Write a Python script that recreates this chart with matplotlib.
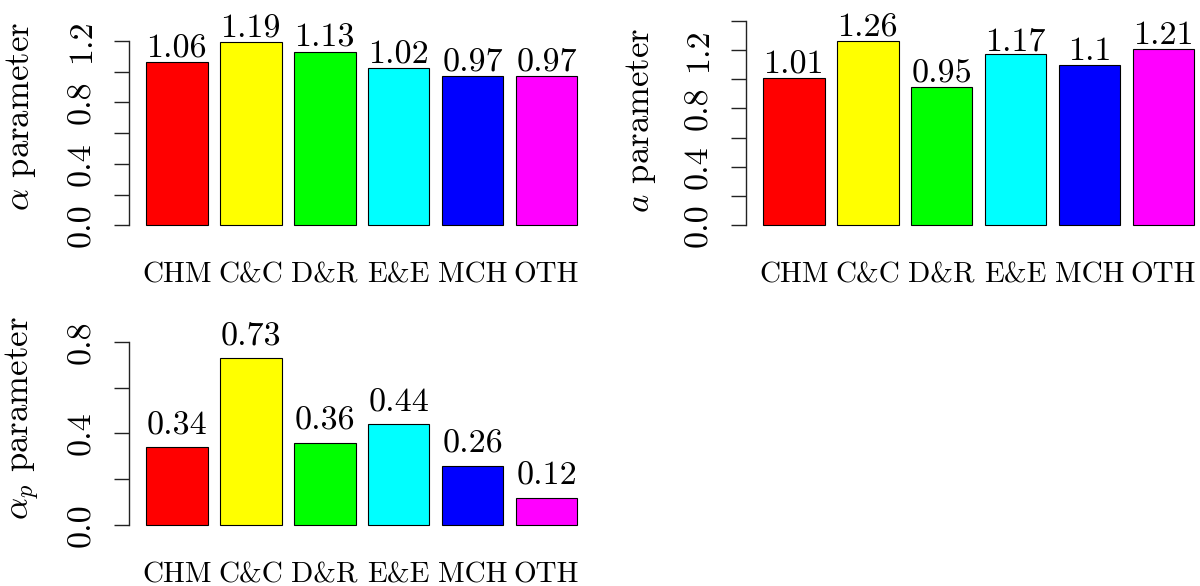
import matplotlib.pyplot as plt

plt.rcParams['font.family'] = 'cmr10'
plt.rcParams['mathtext.fontset'] = 'cm'
plt.rcParams['axes.formatter.use_mathtext'] = True

categories = ['CHM', 'C&C', 'D&R', 'E&E', 'MCH', 'OTH']
bar_colors = ['#FF0000', '#FFFF00', '#00FF00', '#00FFFF', '#0000FF', '#FF00FF']

alpha_values = [1.06, 1.19, 1.13, 1.02, 0.97, 0.97]
a_values = [1.01, 1.26, 0.95, 1.17, 1.1, 1.21]
alpha_p_values = [0.34, 0.73, 0.36, 0.44, 0.26, 0.12]

W, H = 1200, 586
fig = plt.figure(figsize=(W / 100, H / 100), dpi=100)

# bar centres as in R's barplot (width 1, space 0.2)
centers = [0.7 + 1.2 * i for i in range(len(categories))]


def panel(box, values, ylim, yticks, ylabel, label_xy):
    left, top, right, bottom = box
    ax = fig.add_axes([left / W, 1 - bottom / H, (right - left) / W, (bottom - top) / H])
    ax.bar(centers, values, width=1.0, color=bar_colors, edgecolor='black', linewidth=0.8)
    ax.set_xlim(-0.08, 7.48)
    ax.set_ylim(*ylim)

    for s in ['top', 'right', 'bottom']:
        ax.spines[s].set_visible(False)
    ax.spines['left'].set_bounds(yticks[0], yticks[-1])
    ax.spines['left'].set_linewidth(1.0)
    ax.spines['left'].set_color('#222222')

    ax.set_xticks([])
    ax.set_yticks(yticks)
    ax.set_yticklabels([f'{t:.1f}' if i % 2 == 0 else '' for i, t in enumerate(yticks)])
    ax.tick_params(axis='y', length=15 * 0.72, width=1.0, color='#222222', pad=24 * 0.72,
                   labelsize=24.5)
    for lab in ax.get_yticklabels():
        lab.set_rotation(90)
        lab.set_rotation_mode('anchor')
        lab.set_ha('center')
        lab.set_va('baseline')

    for c, v, name in zip(centers, values, categories):
        ax.annotate(f'{v:g}', xy=(c, v + 0.105), xytext=(0, -11), textcoords='offset pixels',
                    ha='center', va='baseline', fontsize=24.5, annotation_clip=False)
        ax.annotate(name, xy=(c, 0), xytext=(0, -57), textcoords='offset pixels',
                    ha='center', va='baseline', fontsize=21, annotation_clip=False)

    fig.text(label_xy[0] / W, 1 - label_xy[1] / H, ylabel, rotation=90, rotation_mode='anchor',
             ha='center', va='baseline', fontsize=25)
    return ax


panel((128.8, 35.0, 594.6, 232.6), alpha_values, (-0.0476, 1.2376),
      [0.0, 0.2, 0.4, 0.6, 0.8, 1.0, 1.2], r'$\alpha$ parameter', (29, 116))
panel((745.8, 12.7, 1211.5, 233.5), a_values, (-0.056, 1.456),
      [0.0, 0.2, 0.4, 0.6, 0.8, 1.0, 1.2, 1.4], r'$a$ parameter', (649, 120))
panel((128.8, 334.4, 594.6, 532.6), alpha_p_values, (-0.032, 0.832),
      [0.0, 0.2, 0.4, 0.6, 0.8], r'$\alpha_p$ parameter', (29, 418))

fig.savefig('out.png', dpi=100)
